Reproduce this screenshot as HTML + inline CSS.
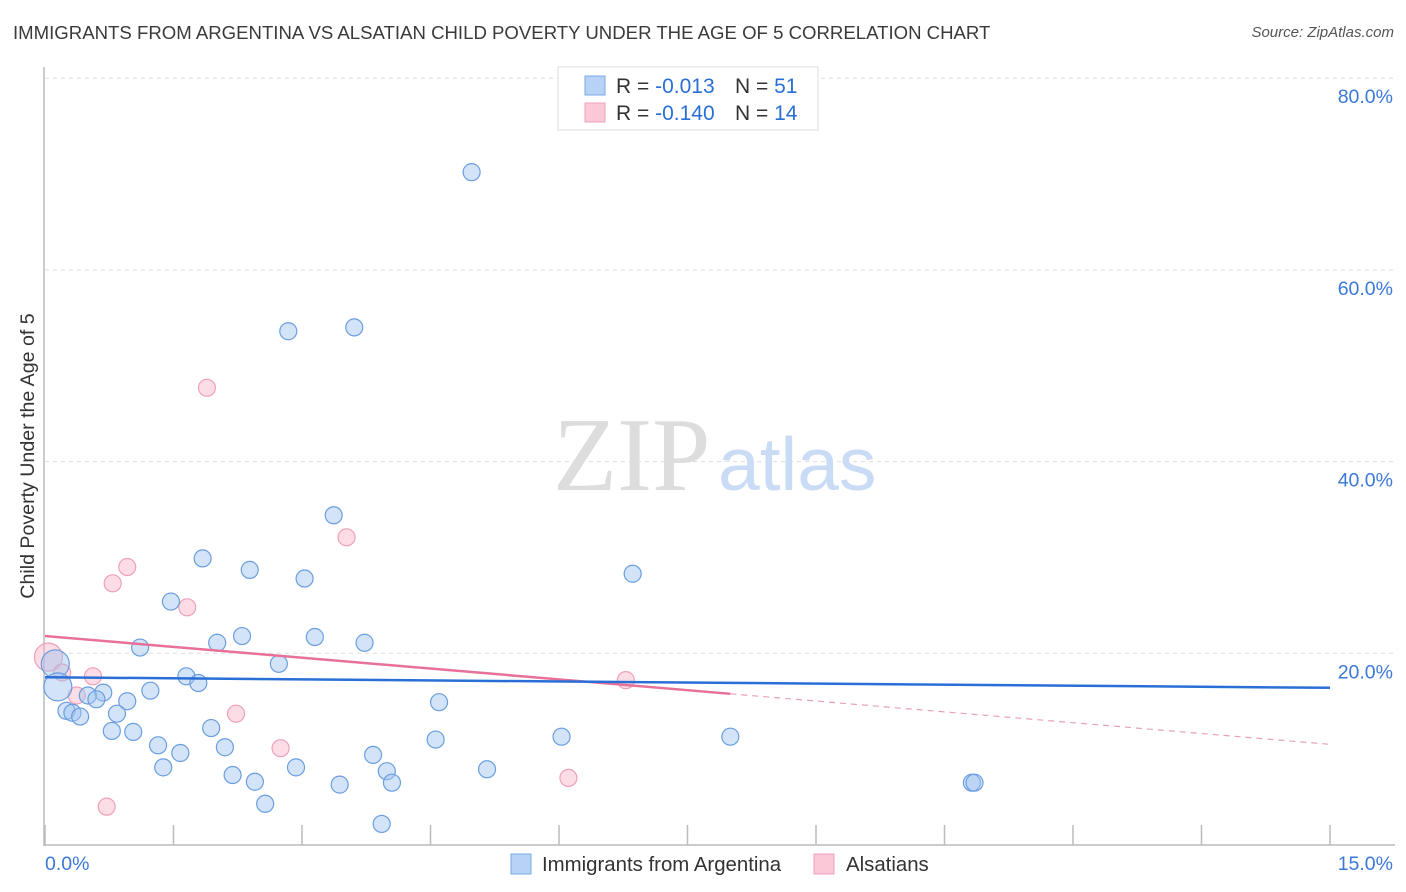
<!DOCTYPE html>
<html><head><meta charset="utf-8">
<style>
body{margin:0;background:#fff;font-family:"Liberation Sans",sans-serif;}
#wrap{position:relative;width:1406px;height:892px;overflow:hidden;}
.title{position:absolute;left:13px;top:22px;font-size:18.6px;color:#3a3a3a;}
.source{position:absolute;right:12px;top:24px;font-size:15px;color:#555;font-style:italic;}
</style></head><body>
<div id="wrap">
<div class="title">IMMIGRANTS FROM ARGENTINA VS ALSATIAN CHILD POVERTY UNDER THE AGE OF 5 CORRELATION CHART</div>
<div class="source">Source: ZipAtlas.com</div>
<svg id="svg" width="1406" height="892" style="position:absolute;left:0;top:0"></svg>
</div>
<script>
const blueX=[4.98,2.84,3.61,3.37,1.84,2.39,3.03,6.86,1.47,2.30,3.15,3.73,2.01,1.11,2.73,1.65,1.79,1.23,0.68,0.50,0.60,0.96,4.60,0.25,0.32,0.41,0.84,1.94,0.78,1.03,1.32,2.10,1.58,4.56,6.03,8.00,3.83,1.38,2.93,2.19,3.99,5.16,2.45,3.44,4.05,10.82,10.85,2.57,3.93,0.12,0.15];
const blueY=[70.2,53.6,54.0,34.4,29.9,28.7,27.8,28.3,25.4,21.8,21.7,21.1,21.1,20.6,18.9,17.6,16.9,16.1,15.9,15.6,15.2,15.0,14.9,14.0,13.8,13.4,13.7,12.2,11.9,11.8,10.4,10.2,9.6,11.0,11.3,11.3,9.4,8.1,8.1,7.3,7.7,7.9,6.6,6.3,6.5,6.5,6.5,4.3,2.2,18.9,16.5];
const blueBig=[0,0,0,0,0,0,0,0,0,0,0,0,0,0,0,0,0,0,0,0,0,0,0,0,0,0,0,0,0,0,0,0,0,0,0,0,0,0,0,0,0,0,0,0,0,0,0,0,0,1,1];
const pinkX=[1.89,3.52,0.96,0.79,1.66,0.04,0.20,0.56,0.37,2.23,2.75,6.78,6.11,0.72];
const pinkY=[47.7,32.1,29.0,27.3,24.8,19.6,18.0,17.6,15.6,13.7,10.1,17.2,7.0,4.0];
const pinkBig=[0,0,0,0,0,1,0,0,0,0,0,0,0,0];
const blueTrend=[17.5,16.4];
const pinkTrend=[21.8,10.5];
const pinkSolidEnd=8.0;
const yTicks=[20,40,60,80];
const yTickLabels=["20.0%","40.0%","60.0%","80.0%"];
const xTicks=[0,1.5,3,4.5,6,7.5,9,10.5,12,13.5,15];

const NS="http://www.w3.org/2000/svg";
const svg=document.getElementById('svg');
const X=v=>45+v*(1330-45)/15;
const Y=v=>845-v*9.585;
function mk(t,a,p){const e=document.createElementNS(NS,t);for(const k in a)e.setAttribute(k,a[k]);(p||svg).appendChild(e);return e;}

yTicks.forEach((t,i)=>{
 const g=mk('line',{x1:45,x2:1395,y1:Y(t),y2:Y(t),stroke:'#ddd','stroke-dasharray':'4,4'});
 
 
 const l=mk('text',{x:1393,y:Y(t)+25,'text-anchor':'end','font-size':19.5,fill:'#3b78d8'});
 l.textContent=yTickLabels[i];
 
 
});
let a=mk('line',{x1:44,x2:44,y1:67,y2:846,stroke:'#bbb','stroke-width':1.5});

a=mk('line',{x1:44,x2:1395,y1:845,y2:845,stroke:'#bbb','stroke-width':1.5});

xTicks.forEach(t=>{
 const tk=mk('line',{x1:X(t),x2:X(t),y1:825,y2:845,stroke:'#bbb','stroke-width':1.5});
 
 
});
let tx=mk('text',{x:45,y:870,'font-size':19.5,fill:'#3b78d8'});tx.textContent='0.0%';

tx=mk('text',{x:1393,y:870,'text-anchor':'end','font-size':19.5,fill:'#3b78d8'});tx.textContent='15.0%';

tx=mk('text',{x:0,y:0,'font-size':19.6,fill:'#333','text-anchor':'middle',transform:'translate(34,456) rotate(-90)'});
tx.textContent='Child Poverty Under the Age of 5';


tx=mk('text',{x:553,y:490,'font-size':105,fill:'#ddd','font-family':'Liberation Serif, serif'});tx.textContent='ZIP';

tx=mk('text',{x:718,y:490,'font-size':75,fill:'#c9dbf5'});tx.textContent='atlas';


pinkX.forEach((v,i)=>{
 const c=mk('circle',{cx:X(v),cy:Y(pinkY[i]),r:pinkBig[i]?14:8.5,fill:'rgba(248,180,200,0.45)',stroke:'#f0a0b8','stroke-width':1.2});
 
 
});
blueX.forEach((v,i)=>{
 const c=mk('circle',{cx:X(v),cy:Y(blueY[i]),r:blueBig[i]?14:8.5,fill:'rgba(160,195,240,0.45)',stroke:'#6a9ee0','stroke-width':1.2});
 
 
});
const pAt=x=>pinkTrend[0]+(pinkTrend[1]-pinkTrend[0])*x/15;
let ln=mk('line',{x1:X(0),y1:Y(pinkTrend[0]),x2:X(pinkSolidEnd),y2:Y(pAt(pinkSolidEnd)),stroke:'#e8719a','stroke-width':2.5});

ln=mk('line',{x1:X(pinkSolidEnd),y1:Y(pAt(pinkSolidEnd)),x2:X(15),y2:Y(pinkTrend[1]),stroke:'#e8a0b8','stroke-width':1.2,'stroke-dasharray':'6,5'});

ln=mk('line',{x1:X(0),y1:Y(blueTrend[0]),x2:X(15),y2:Y(blueTrend[1]),stroke:'#2a6fd6','stroke-width':2.5});


const lg=mk('g',{});

mk('rect',{x:558,y:67,width:260,height:63,fill:'#fff',stroke:'#ddd'},lg);
mk('rect',{x:585,y:76,width:20,height:19,fill:'#b8d2f5',stroke:'#7aa8e6'},lg);
mk('rect',{x:585,y:103,width:20,height:19,fill:'#fac8d6',stroke:'#f0a0b8'},lg);
[["-0.013","51",93],["-0.140","14",120]].forEach(r=>{
 let t=mk('text',{x:616,y:r[2],'font-size':21,fill:'#333'},lg);
 t.innerHTML='R = <tspan fill="#2a6fd6">'+r[0]+'</tspan>';
 t=mk('text',{x:735,y:r[2],'font-size':21,fill:'#333'},lg);
 t.innerHTML='N = <tspan fill="#2a6fd6">'+r[1]+'</tspan>';
});
const bl=mk('g',{});

mk('rect',{x:511,y:854,width:20,height:20,fill:'#b8d2f5',stroke:'#7aa8e6'},bl);
tx=mk('text',{x:542,y:871,'font-size':20.4,fill:'#333'},bl);tx.textContent='Immigrants from Argentina';
mk('rect',{x:814,y:854,width:20,height:20,fill:'#fac8d6',stroke:'#f0a0b8'},bl);
tx=mk('text',{x:846,y:871,'font-size':20.4,fill:'#333'},bl);tx.textContent='Alsatians';
</script>
</body></html>
